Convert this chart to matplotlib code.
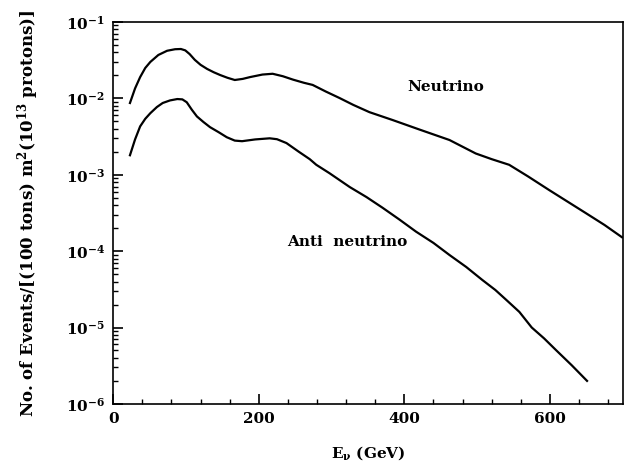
import numpy as np
import matplotlib.pyplot as plt
from matplotlib.ticker import MultipleLocator, LogLocator

# Neutrino spectrum
e_nu = [23, 30, 37, 44, 51, 62, 74, 85, 93, 99, 105, 112, 120, 129, 138, 147, 157,
        167, 178, 188, 205, 219, 233, 247, 262, 274, 292, 311, 330, 352, 384,
        421, 462, 498, 520, 544, 570, 599, 625, 649, 675, 699]
n_nu = [0.0087, 0.0135, 0.019, 0.025, 0.030, 0.037, 0.042, 0.044, 0.0443, 0.0425,
        0.038, 0.032, 0.0275, 0.0243, 0.022, 0.0202, 0.0186, 0.0174, 0.018, 0.019,
        0.0205, 0.021, 0.0195, 0.0176, 0.016, 0.015, 0.0123, 0.0101, 0.0082, 0.0066,
        0.0052, 0.0039, 0.00285, 0.0019, 0.0016, 0.00135, 0.00095, 0.00063, 0.00044, 0.000316,
        0.00022, 0.000152]

# Anti-neutrino spectrum
e_anu = [23, 30, 37, 44, 51, 60, 68, 78, 88, 95, 101, 108, 115, 124, 133, 145, 156,
         167, 177, 195, 215, 225, 238, 255, 270, 279, 297, 325, 348, 370, 393,
         416, 440, 462, 485, 507, 525, 540, 558, 575, 592, 608, 630, 651]
n_anu = [0.0018, 0.0029, 0.0043, 0.0054, 0.0064, 0.0077, 0.0087, 0.0094, 0.0098, 0.0097,
         0.0089, 0.0071, 0.0058, 0.0049, 0.0042, 0.0036, 0.0031, 0.0028, 0.00275, 0.0029,
         0.0030, 0.00292, 0.0026, 0.0020, 0.0016, 0.00135, 0.00105, 0.00069, 0.00051, 0.00037,
         0.00026, 0.00018, 0.000128, 0.000089, 0.000062, 0.000042, 0.000031, 0.000023, 0.000016, 0.000010,
         0.0000072, 0.0000051, 0.0000032, 0.000002]

plt.rcParams['font.family'] = 'DejaVu Serif'
plt.rcParams['font.weight'] = 'bold'
plt.rcParams['axes.labelweight'] = 'bold'
plt.rcParams['mathtext.fontset'] = 'dejavuserif'
plt.rcParams['mathtext.default'] = 'bf'

fig = plt.figure(figsize=(6.29, 4.68), dpi=100)
ax = fig.add_axes([0.18, 0.137, 0.81, 0.816])

ax.plot(e_nu, n_nu, color='black', lw=1.6)
ax.plot(e_anu, n_anu, color='black', lw=1.6)

ax.set_yscale('log')
ax.set_xlim(0, 700)
ax.set_ylim(1e-6, 1e-1)

ax.xaxis.set_major_locator(MultipleLocator(200))
ax.xaxis.set_minor_locator(MultipleLocator(40))
ax.yaxis.set_major_locator(LogLocator(base=10, numticks=10))
ax.yaxis.set_minor_locator(LogLocator(base=10, subs=np.arange(2, 10), numticks=20))
ax.tick_params(which='both', direction='in', top=False, right=False, labelsize=11)
ax.tick_params(which='major', length=7, width=1.2, pad=6)
ax.tick_params(which='minor', length=3.5, width=1)
for s in ax.spines.values():
    s.set_linewidth(1.2)

ax.text(457, 0.0141, 'Neutrino', ha='center', va='center', fontsize=11)
ax.text(322, 1.3e-4, 'Anti  neutrino', ha='center', va='center', fontsize=11)

ax.set_xlabel(r'E$_\nu$ (GeV)', fontsize=11, labelpad=13)
ax.set_ylabel(r'No. of Events/[(100 tons) m$^2$(10$^{13}$ protons)]', fontsize=12, labelpad=18)

fig.savefig('out.png', dpi=100)
